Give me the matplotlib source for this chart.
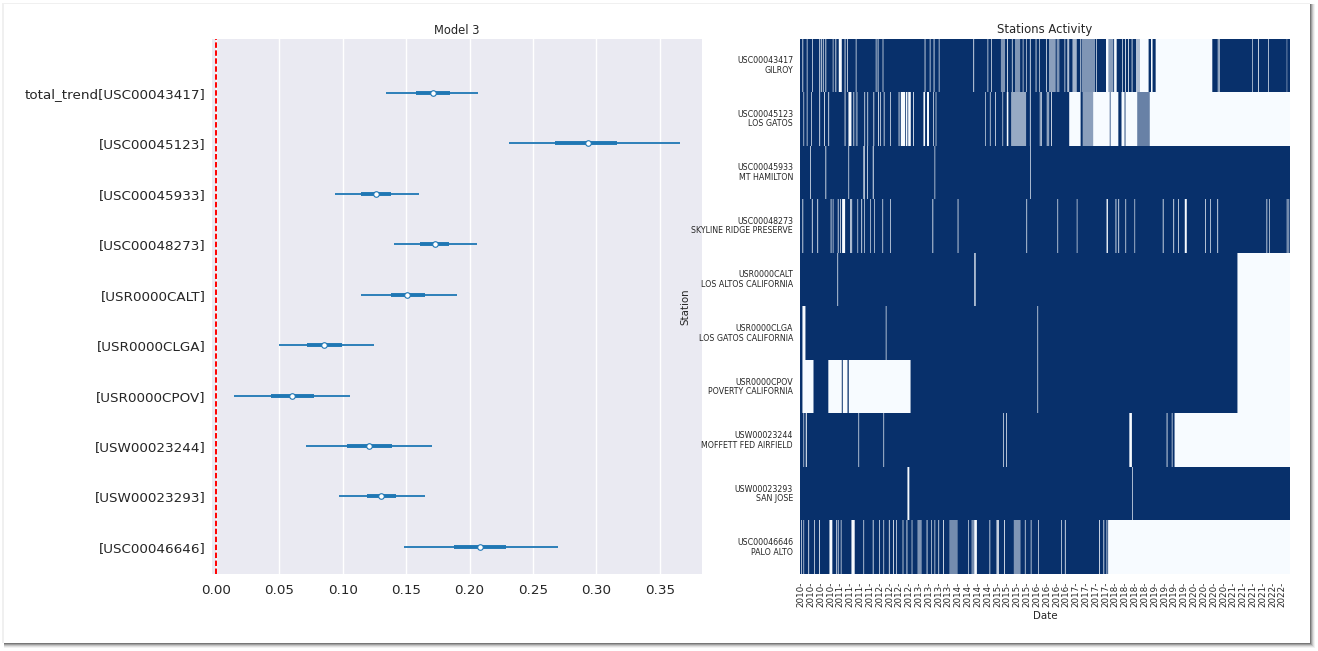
import matplotlib.pyplot as plt
import numpy as np
from matplotlib.colors import LinearSegmentedColormap
from matplotlib.patches import Rectangle

W, H = 1318, 651

# forest plot, Model 3
forest_labels = ['total_trend[USC00043417]', '[USC00045123]', '[USC00045933]', '[USC00048273]',
                 '[USR0000CALT]', '[USR0000CLGA]', '[USR0000CPOV]', '[USW00023244]',
                 '[USW00023293]', '[USC00046646]']
hdi_low = [0.134, 0.231, 0.094, 0.140, 0.114, 0.050, 0.014, 0.071, 0.097, 0.148]
hdi_high = [0.207, 0.366, 0.160, 0.206, 0.190, 0.125, 0.106, 0.170, 0.165, 0.270]
iqr_low = [0.158, 0.267, 0.114, 0.161, 0.138, 0.072, 0.043, 0.103, 0.119, 0.188]
iqr_high = [0.1845, 0.316, 0.138, 0.184, 0.165, 0.099, 0.077, 0.139, 0.142, 0.229]
medians = [0.171, 0.293, 0.126, 0.173, 0.151, 0.085, 0.060, 0.121, 0.130, 0.208]
forest_ticks = [0.0, 0.05, 0.10, 0.15, 0.20, 0.25, 0.30, 0.35]

# station activity, all dates are years since Jan 2010
stations = ['USC00043417\nGILROY', 'USC00045123\nLOS GATOS', 'USC00045933\nMT HAMILTON',
            'USC00048273\nSKYLINE RIDGE PRESERVE', 'USR0000CALT\nLOS ALTOS CALIFORNIA',
            'USR0000CLGA\nLOS GATOS CALIFORNIA', 'USR0000CPOV\nPOVERTY CALIFORNIA',
            'USW00023244\nMOFFETT FED AIRFIELD', 'USW00023293\nSAN JOSE', 'USC00046646\nPALO ALTO']
period_end = 12.47

# single missing weeks
thin_gaps = [
    [0.06, 0.17, 0.305, 0.49, 0.53, 0.58, 0.645, 0.83, 0.90, 1.136, 1.196, 1.416, 1.925, 1.976, 2.10,
     3.17, 3.30, 3.40, 3.53, 4.41, 4.77, 4.86, 5.27, 5.39, 5.47, 5.55, 5.665, 5.75, 5.85, 5.995, 6.09,
     6.26, 6.73, 7.13, 7.53, 8.2, 8.27, 8.35, 8.44, 10.63, 10.67, 11.51, 11.66, 11.91],
    [0.085, 0.17, 0.28, 0.49, 0.61, 0.72, 1.136, 1.357, 1.637, 1.713, 1.866, 1.984, 2.035, 2.13, 2.29,
     2.51, 2.88, 3.39, 3.45, 4.715, 4.83, 4.96, 5.15, 5.85, 6.1, 6.13, 6.28, 6.32, 6.39],
    [0.26, 0.645, 1.23, 1.61, 1.63, 1.71, 3.42, 5.86],
    [0.06, 0.44, 0.78, 0.83, 0.96, 1.02, 1.27, 1.305, 1.46, 1.56, 1.63, 1.78, 1.89, 2.095, 2.29, 3.37,
     4.01, 5.76, 6.55, 7.04, 8.03, 8.10, 8.28, 8.51, 9.50, 9.62, 10.31, 10.44, 10.62, 11.87, 11.94],
    [0.95, 4.43, 4.45],
    [2.18, 6.04],
    [6.04],
    [0.085, 1.484, 2.12, 5.17, 5.24, 9.33, 9.46],
    [8.455],
    [0.025, 0.085, 0.21, 0.356, 0.915, 0.96, 1.035, 1.61, 1.85, 2.01, 2.12, 2.26, 2.37, 2.44, 2.61,
     2.71, 2.84, 3.33, 3.42, 3.52, 4.28, 4.82, 5.04, 5.19, 5.72, 5.87, 6.06, 6.64, 6.74, 7.61, 7.72, 7.80],
]

# longer stretches with no data at all
wide_gaps = [
    [(0.984, 1.06), (7.785, 7.845), (7.99, 8.055), (8.65, 8.87), (8.93, 8.97), (9.05, 10.49)],
    [(1.23, 1.306), (2.56, 2.67), (2.69, 2.73), (2.75, 2.815), (3.14, 3.18), (3.23, 3.28), (5.26, 5.30),
     (6.85, 7.14), (7.46, 7.88), (7.90, 8.10), (8.18, 8.26), (8.28, 8.58), (8.90, 12.47)],
    [(1.85, 1.87)],
    [(0.30, 0.32), (1.07, 1.145), (7.80, 7.835), (9.23, 9.25), (9.79, 9.84)],
    [(11.13, 12.47)],
    [(0.06, 0.135), (11.13, 12.47)],
    [(0.06, 0.34), (0.72, 1.06), (1.085, 1.205), (1.24, 2.81), (11.13, 12.47)],
    [(0.145, 0.17), (8.38, 8.445), (9.53, 12.47)],
    [(2.73, 2.78)],
    [(0.746, 0.82), (0.48, 0.50), (1.306, 1.39), (3.22, 3.24), (3.64, 3.66), (4.435, 4.50), (5.00, 5.03),
     (7.84, 12.47)],
]

# stretches with only part of the days reported: start, end, share active
partial_gaps = [
    [(5.11, 5.215, 0.5), (5.47, 5.60, 0.5), (6.335, 6.505, 0.45), (6.53, 6.60, 0.5), (6.80, 6.85, 0.3),
     (6.93, 7.04, 0.35), (7.165, 7.505, 0.5), (7.845, 7.97, 0.45), (8.55, 8.65, 0.3), (12.38, 12.40, 0.5)],
    [(1.416, 1.467, 0.55), (5.37, 5.75, 0.4), (7.19, 7.46, 0.45), (8.58, 8.90, 0.6)],
    [],
    [(12.38, 12.45, 0.55)],
    [],
    [],
    [],
    [],
    [],
    [(2.985, 3.095, 0.5), (3.80, 4.01, 0.55), (4.36, 4.435, 0.55), (5.44, 5.61, 0.5)],
]

tick_labels = ['%d-' % (2010 + i // 4) for i in range(50)]

plt.rcParams['font.family'] = 'DejaVu Sans'
plt.rcParams['text.color'] = '.15'
plt.rcParams['axes.labelcolor'] = '.15'
plt.rcParams['xtick.color'] = '.15'
plt.rcParams['ytick.color'] = '.15'


def px_axes(fig, left, top, right, bottom):
    return fig.add_axes([left / W, 1 - bottom / H, (right - left) / W, (bottom - top) / H])


def build_activity():
    days = np.arange(0, period_end, 1 / 365.25)
    grid = np.ones((len(stations), len(days)))
    for row in range(len(stations)):
        for d in thin_gaps[row]:
            grid[row, (days >= d) & (days < d + 0.018)] = 0
        for a, b in wide_gaps[row]:
            grid[row, (days >= a) & (days < b)] = 0
        for a, b, share in partial_gaps[row]:
            grid[row, (days >= a) & (days < b)] = share
    # one column per pixel or so, otherwise the thin gaps flicker
    # array_split would make the first bins longer and shift everything, so even edges
    edges = np.linspace(0, len(days), 491).astype(int)
    return np.add.reduceat(grid, edges[:-1], axis=1) / np.diff(edges)


fig = plt.figure(figsize=(W / 100, H / 100), dpi=100, facecolor='white')

# screenshot card with its drop shadow
for grow, alpha in [(5, 0.05), (4, 0.08), (3, 0.12), (2, 0.18), (1, 0.25)]:
    fig.add_artist(Rectangle((4 / W, 1 - (643 + grow) / H), (1306 + grow) / W, (639 + grow) / H,
                             transform=fig.transFigure, fc='black', ec='none', alpha=alpha, zorder=-6))
fig.add_artist(Rectangle((2 / W, 1 - 643 / H), 1308 / W, 640 / H, transform=fig.transFigure,
                         fc='0.94', ec='none', zorder=-5))
fig.add_artist(Rectangle((4 / W, 1 - 643 / H), 1306 / W, 639 / H, transform=fig.transFigure,
                         fc='white', ec='none', zorder=-4))

ax = px_axes(fig, 212, 39, 702, 574)
ax.set_facecolor('#eaeaf2')
y = np.arange(len(forest_labels))[::-1]
ax.hlines(y, hdi_low, hdi_high, color='C0', lw=1.3, zorder=3)
ax.hlines(y, iqr_low, iqr_high, color='C0', lw=2.8, zorder=4)
ax.plot(medians, y, 'o', mfc='white', mec='C0', mew=0.8, ms=4, zorder=5)
ax.axvline(0, color='red', ls='--', lw=1.4, dashes=(2.8, 1.3), zorder=6)
ax.set_xlim(-0.00315, 0.3833)
ax.set_ylim(-0.537, 10.07)
ax.set_xticks(forest_ticks, ['%.2f' % t for t in forest_ticks], fontsize=9.7)
ax.set_yticks(y, forest_labels, fontsize=9.7, va='center_baseline')
ax.grid(axis='x', color='white', lw=1)
ax.grid(axis='y', visible=False)
ax.set_axisbelow(True)
ax.tick_params(axis='x', length=0, pad=7.5)
ax.tick_params(axis='y', length=0, pad=4.5)
for s in ax.spines.values():
    s.set_visible(False)
ax.set_title('Model 3', fontsize=8.3, pad=3.5)

ax2 = px_axes(fig, 800, 38.5, 1290, 574)
cmap = LinearSegmentedColormap.from_list('activity', ['#f7fbff', '#08306b'])
activity = build_activity()
ax2.pcolormesh(np.linspace(0, period_end, activity.shape[1] + 1), np.arange(len(stations) + 1), activity,
               cmap=cmap, vmin=0, vmax=1, antialiased=False, linewidth=0, rasterized=True)
ax2.set_xlim(0, period_end)
ax2.set_ylim(len(stations), 0)
ax2.set_yticks(np.arange(len(stations)) + 0.48, stations, fontsize=5.7, linespacing=1.08)
for lab in ax2.get_yticklabels():
    lab.set_ha('right')
    lab.set_multialignment('right')
ax2.set_xticks((np.arange(50) + 0.1) * 0.25, tick_labels, rotation=90, fontsize=6.3)
ax2.tick_params(axis='x', length=0, pad=5.5)
ax2.tick_params(axis='y', length=0, pad=5)
for s in ax2.spines.values():
    s.set_visible(False)
ax2.set_xlabel('Date', fontsize=7.4, labelpad=3)
ax2.set_ylabel('Station', fontsize=7.4, labelpad=1)
ax2.set_title('Stations Activity', fontsize=8.4, pad=4)

fig.savefig('out.png', dpi=100)
